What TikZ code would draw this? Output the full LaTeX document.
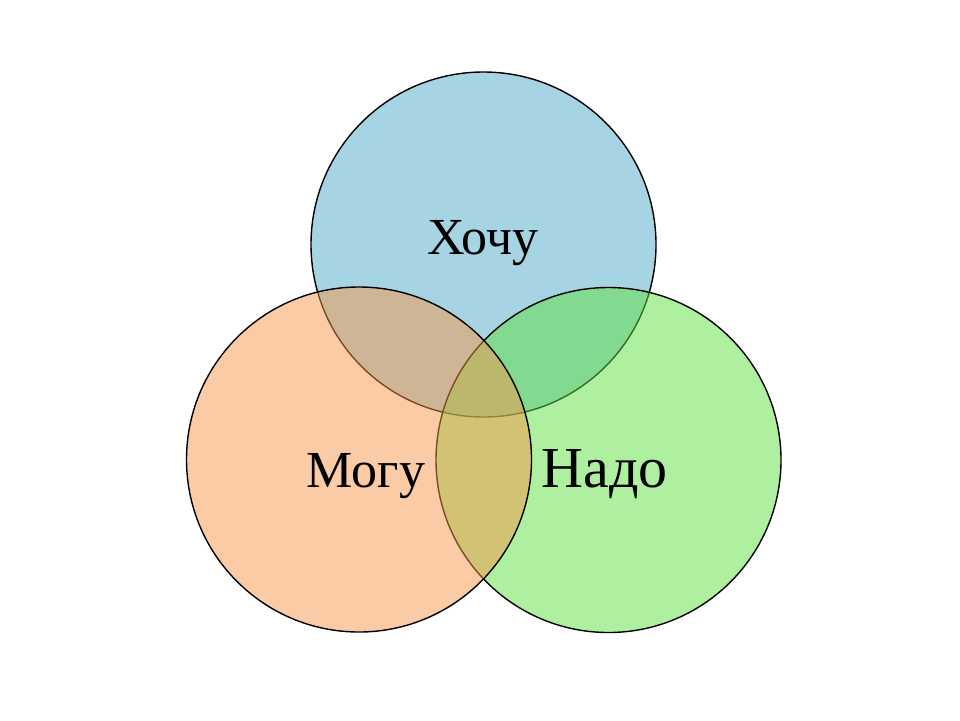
\documentclass[tikz,border=0pt]{standalone}
\usepackage{fontspec}
\setmainfont{Liberation Serif}
\usepackage{tikz}

\definecolor{wantblue}{RGB}{77,169,197}
\definecolor{needgreen}{RGB}{95,225,65}
\definecolor{canorange}{RGB}{245,151,75}

\tikzset{
  venn/.style={line width=1.4pt, draw=black, fill opacity=0.5},
  word/.style={anchor=base, font=\fontsize{52}{60}\selectfont}
}

\begin{document}
\begin{tikzpicture}[x=1pt,y=-1pt]
    \useasboundingbox (0,0) rectangle (960,720);

    \filldraw[venn, fill=wantblue] (483.5,244.5) circle(172.5);
    \filldraw[venn, fill=needgreen] (608.5,460) circle(172.5);
    \filldraw[venn, fill=canorange] (359,459.5) circle(172.5);

    \node[word] (want) at (483,254) {Хочу};
    \node[word] (can) at (366,487) {Могу};
    \node[word, font=\fontsize{58}{66}\selectfont] (need) at (604.5,487) {Надо};
\end{tikzpicture}
\end{document}
